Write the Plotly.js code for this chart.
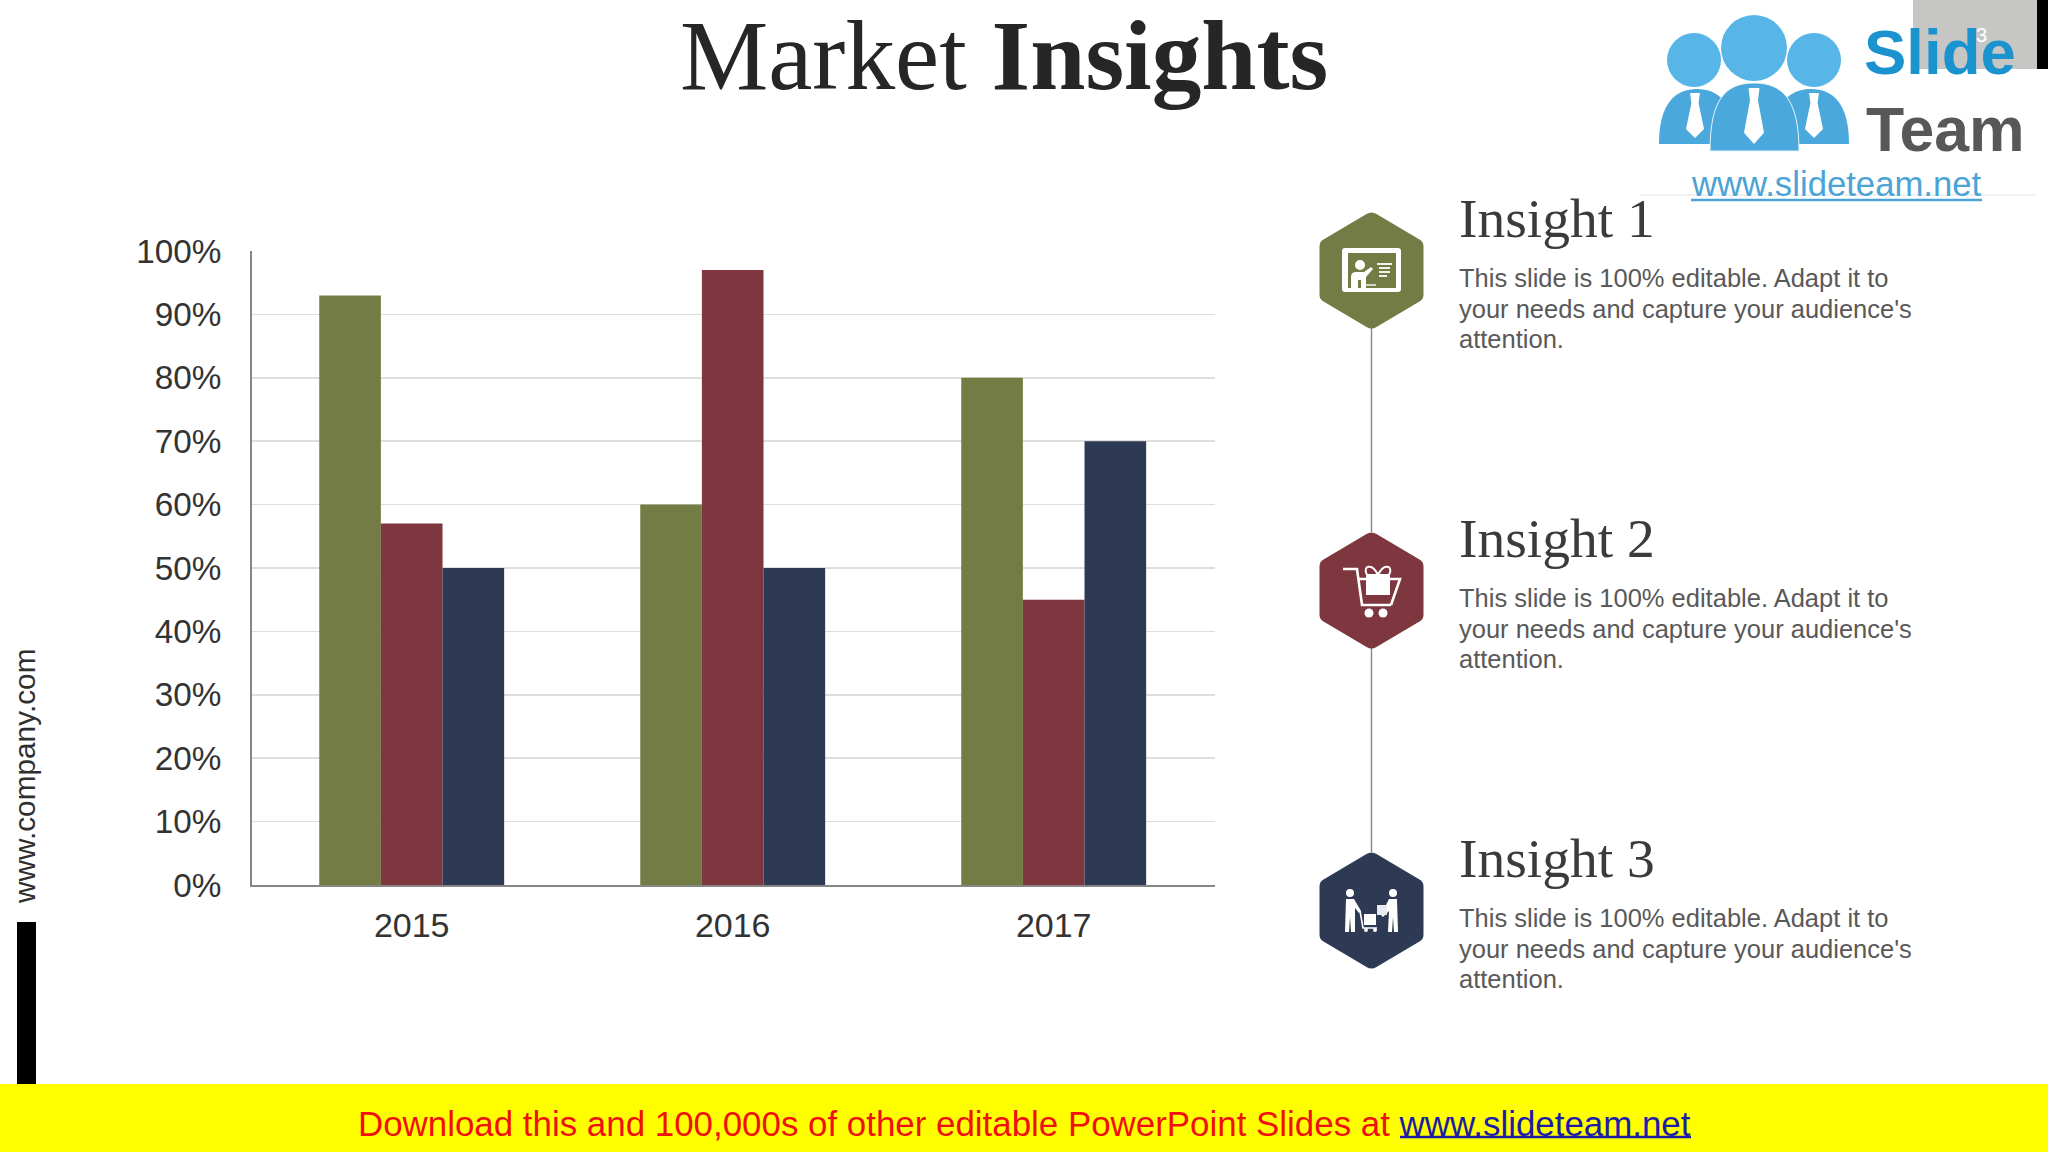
<!DOCTYPE html>
<html><head><meta charset="utf-8">
<script src="https://cdn.plot.ly/plotly-3.0.1.min.js"></script>
<style>html,body{margin:0;padding:0;background:#fff}#c{width:2048px;height:1152px}</style>
</head><body><div id="c"></div>
<script>
const years = ['2015','2016','2017'];
const series1 = [93,60,80];
const series2 = [57,97,45];
const series3 = [50,50,70];
const yTicks = [0,10,20,30,40,50,60,70,80,90,100];
const yTickText = ['0%','10%','20%','30%','40%','50%','60%','70%','80%','90%','100%'];
const headings = ['Insight 1','Insight 2','Insight 3'];
const bodyLines = ['This slide is 100% editable. Adapt it to',"your needs and capture your audience's",'attention.'];
const OLIVE='#747c45', MAROON='#7e373e', NAVY='#2e3a54';
const W=2048,H=1152;
const X=v=>v/W, Y=v=>1-v/H;
function P(cmds){return cmds.map(c=>{let s=c[0];for(let i=1;i<c.length;i+=2)s+=(i>1?' ':'')+X(c[i])+','+Y(c[i+1]);return s;}).join(' ');}
const shapes=[], ann=[];
function rect(x0,y0,x1,y1,fill){shapes.push({type:'rect',xref:'paper',yref:'paper',x0:X(x0),x1:X(x1),y0:Y(y0),y1:Y(y1),fillcolor:fill,line:{width:0}});}
function circ(cx,cy,r,fill){shapes.push({type:'circle',xref:'paper',yref:'paper',x0:X(cx-r),x1:X(cx+r),y0:Y(cy-r),y1:Y(cy+r),fillcolor:fill,line:{width:0}});}
function line(x0,y0,x1,y1,color,w){shapes.push({type:'line',xref:'paper',yref:'paper',x0:X(x0),x1:X(x1),y0:Y(y0),y1:Y(y1),line:{color:color,width:w}});}
function path(cmds,fill,lc,lw){shapes.push({type:'path',xref:'paper',yref:'paper',path:P(cmds),fillcolor:fill||'rgba(0,0,0,0)',line:{color:lc||'rgba(0,0,0,0)',width:lw||0}});}
function text(t,x,y,size,color,family,anchor,extra){ann.push(Object.assign({text:t,xref:'paper',yref:'paper',x:X(x),y:Y(y),xanchor:anchor||'left',yanchor:'middle',showarrow:false,borderpad:0,font:{size:size,color:color,family:family}},extra||{}));}
const SANS='Liberation Sans, Arial, sans-serif', SERIF='Liberation Serif, Georgia, serif';

// frame pieces
rect(0,1084,W,H,'#ffff00');
rect(17,922,36,1084,'#000000');
rect(1913,0,2037,69,'#c6c7c5');
rect(2037,0,W,69,'#000000');
line(1640,195,2036,195,'#e3e3e3',1.2);

// logo
const BL='#4aa8dc', BC='#58b5e8';
function body(x0,x1,top,bot){const m=(x0+x1)/2,h=bot-top;
  path([['M',x0,bot],['C',x0,top+h*0.25,m-(x1-x0)*0.28,top,m,top],['C',m+(x1-x0)*0.28,top,x1,top+h*0.25,x1,bot],['Z']],BL);}
function tie(cx,t,b,w){path([['M',cx-w*0.55,t],['L',cx+w*0.55,t],['L',cx+w*0.4,t+(b-t)*0.22],['L',cx+w,b-(b-t)*0.2],['L',cx,b],['L',cx-w,b-(b-t)*0.2],['L',cx-w*0.4,t+(b-t)*0.22],['Z']],'#ffffff');}
body(1659,1735,89,144); body(1773,1849,89,144);
path([['M',1710,151],['C',1710,100,1725,83,1754,83],['C',1783,83,1799,100,1799,151],['Z']],BL,'#e8f4fb',1);
circ(1694,60,27,BC); circ(1754,48,33,BC); circ(1814,60,27,BC);
tie(1695,93,138,9); tie(1754,88,144,10); tie(1814,93,138,9);
line(1691,200,1982,200,'#4ba3d6',2.6);

// hexagons and timeline
const HX=1371.5, HY=[270.5,590.5,910.5], HC=[OLIVE,MAROON,NAVY];
line(HX,328,HX,532,'#8c8c8c',1.5); line(HX,648,HX,852,'#8c8c8c',1.5);
HY.forEach((cy,i)=>{const a=52,b=59.5,s=29;
 path([['M',HX-5,cy-b+3],['Q',HX,cy-b,HX+5,cy-b+3],['L',HX+a-4,cy-s-2],['Q',HX+a,cy-s,HX+a,cy-s+5],['L',HX+a,cy+s-5],['Q',HX+a,cy+s,HX+a-4,cy+s+2],['L',HX+5,cy+b-3],['Q',HX,cy+b,HX-5,cy+b-3],['L',HX-a+4,cy+s+2],['Q',HX-a,cy+s,HX-a,cy+s-5],['L',HX-a,cy-s+5],['Q',HX-a,cy-s,HX-a+4,cy-s-2],['Z']],HC[i]);
});
const WH='#ffffff';
// icon 1: presenter at board
path([['M',1345,248],['L',1398,248],['Q',1401,248,1401,251],['L',1401,289],['Q',1401,292,1398,292],['L',1345,292],['Q',1342,292,1342,289],['L',1342,251],['Q',1342,248,1345,248],['Z']],WH);
rect(1348,253,1396,288,OLIVE);
circ(1360,265,5,WH);
path([['M',1351,288],['L',1351,277],['Q',1351,272,1356,272],['L',1364,272],['L',1371,267],['L',1373,269],['L',1366,277],['L',1366,288],['L',1361,288],['L',1361,280],['L',1358,280],['L',1358,288],['Z']],WH);
[[1377,1392,264],[1379,1390,268],[1379,1390,272],[1379,1387,276]].forEach(a=>line(a[0],a[2],a[1],a[2],WH,1.8));
line(1365,285,1376,285,WH,1.4);
// icon 2: gift cart
path([['M',1343,569],['L',1357,569],['L',1362,605],['L',1391,605]],null,WH,2.6);
path([['M',1358,579],['L',1400,579],['L',1391,605]],null,WH,2.6);
rect(1366,576,1390,595,WH);
path([['M',1378,575],['C',1372,562,1362,566,1367,575],['Z']],null,WH,2);
path([['M',1378,575],['C',1384,562,1394,566,1389,575],['Z']],null,WH,2);
circ(1369,613,4.5,WH); circ(1383,613,4.5,WH);
// icon 3: two people and cart
circ(1350,893,4,WH); circ(1393,893,4,WH);
path([['M',1346,899],['L',1354,899],['L',1361,911],['L',1359,913],['L',1355,908],['L',1355,932],['L',1351,932],['L',1350,917],['L',1349,932],['L',1345,932],['Z']],WH);
path([['M',1389,899],['L',1397,899],['L',1398,932],['L',1394,932],['L',1393,917],['L',1392,932],['L',1388,932],['L',1389,911],['L',1383,917],['L',1381,915],['Z']],WH);
path([['M',1360,911],['L',1363,928],['L',1377,928]],null,WH,1.6);
rect(1364,914,1376,925,WH);
circ(1366,930,2,WH); circ(1375,930,2,WH);
rect(1377,905,1387,915,'#e8ebf0');

// titles and text
text('Market <b>Insights</b>',1004,55,99.3,'#262626',SERIF,'center');
headings.forEach((h,i)=>{
  const base=218+i*320;
  text(h,1458,base,55.5,'#3b3b3b',SERIF);
  bodyLines.forEach((l,j)=>text(l,1458,278+i*320+j*30.7,25.5,'#595959',SANS));
});
text('<b>Slide</b>',1863,52,63.5,'#1b93cf',SANS,'left');
text('<b>Team</b>',1865,129,62.5,'#58585a',SANS,'left');
text('www.slideteam.net',1690,184,34.7,'#4ba3d6',SANS,'left');
text('3',1981,35,20,'#ffffff',SANS,'center');
text('www.company.com',24.5,776.5,29.8,'#2f2f2f',SANS,'center',{textangle:-90});
text('Download this and 100,000s of other editable PowerPoint Slides at <span style="color:#1c1ca8">www.slideteam.net</span>',357,1123,34.9,'#f01010',SANS,'left');
line(1400,1137,1691,1137,'#1c1ca8',2.4);

const mk=(y,c,n)=>({type:'bar',x:years,y:y,name:n,marker:{color:c,line:{width:0}},hoverinfo:'skip'});
const data=[mk(series1,OLIVE,'Series 1'),mk(series2,MAROON,'Series 2'),mk(series3,NAVY,'Series 3')];
const layout={width:W,height:H,margin:{l:0,r:0,t:0,b:0},paper_bgcolor:'#ffffff',plot_bgcolor:'#ffffff',showlegend:false,
 barmode:'group',bargap:0.424,bargroupgap:0,
 xaxis:{domain:[X(252),X(1215)],type:'category',range:[-0.4975,2.5025],showgrid:false,zeroline:false,showline:true,linecolor:'#868686',linewidth:2,ticks:'',ticklabelstandoff:9,tickfont:{size:34,color:'#333333',family:SANS},anchor:'y'},
 yaxis:{domain:[Y(885),Y(251)],range:[0,100],tickmode:'array',tickvals:yTicks,ticktext:yTickText,showgrid:true,gridcolor:'#dedede',gridwidth:1.6,zeroline:false,showline:true,linecolor:'#868686',linewidth:2,ticks:'',ticklabelstandoff:22,tickfont:{size:33.3,color:'#333333',family:SANS},anchor:'x'},
 shapes:shapes,annotations:ann};
Plotly.newPlot('c',data,layout,{staticPlot:true,displayModeBar:false});
</script></body></html>
